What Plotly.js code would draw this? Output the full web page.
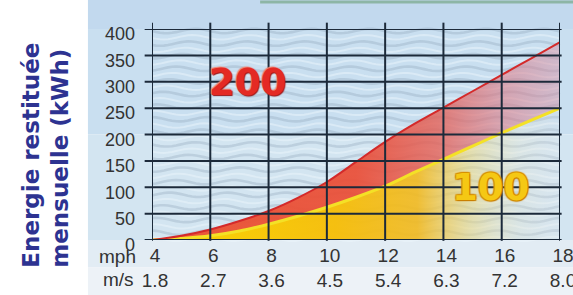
<!DOCTYPE html>
<html>
<head>
<meta charset="utf-8">
<script src="https://cdn.plot.ly/plotly-3.0.1.min.js"></script>
<style>html,body{margin:0;padding:0;background:#fff;}#chart{width:573px;height:295px;}</style>
</head>
<body>
<div id="chart"></div>
<script>
// ---- data ----
const windMph = [4, 5, 6, 7, 8, 9, 10, 11, 12, 13, 14, 15, 16, 17, 18];
const energy200 = [0, 8, 20, 36, 55, 80, 110, 148, 186, 220, 251, 282, 313, 344, 375];
const energy100 = [0, 3, 8, 17, 30, 45, 62, 81, 102, 128, 153, 178, 203, 227, 250];
const mphTicks = [4, 6, 8, 10, 12, 14, 16, 18];
const msLabels = ['1.8', '2.7', '3.6', '4.5', '5.4', '6.3', '7.2', '8.0'];
const yTicks = [0, 50, 100, 150, 200, 250, 300, 350, 400];
const seriesNames = ['100', '200'];

// ---- decorative background texture (not data) ----
function waveShapes() {
  const shapes = [];
  const W = 408, H = 211;
  for (let k = 0; k < 34; k++) {
    const base = 2 + k * 6.3;
    let d = '';
    for (let px = 0; px <= W; px += 4) {
      const py = base + 2.2 * Math.sin(2 * Math.PI * px / 58 + k * 0.35);
      d += (px === 0 ? 'M' : 'L') + (px / W).toFixed(4) + ',' + (1 - py / H).toFixed(4) + ' ';
    }
    shapes.push({type: 'path', xref: 'paper', yref: 'paper', path: d, layer: 'below',
      line: {color: k % 2 ? 'rgba(236,246,252,0.5)' : 'rgba(130,150,172,0.28)', width: k % 2 ? 2 : 2.6}});
  }
  return shapes;
}

const gridColor = '#1c2a3a';
const shapes = [];
// panel background
shapes.push({type: 'rect', xref: 'paper', yref: 'paper', x0: -0.157, x1: 1.04, y0: 1.0, y1: 1.14, fillcolor: '#c2d9ee', line: {width: 0}, layer: 'below'});
shapes.push({type: 'rect', xref: 'paper', yref: 'paper', x0: -0.157, x1: 1.04, y0: 0.5, y1: 1.0, fillcolor: '#c9dff0', line: {width: 0}, layer: 'below'});
shapes.push({type: 'rect', xref: 'paper', yref: 'paper', x0: -0.157, x1: 1.04, y0: 0.0, y1: 0.5, fillcolor: '#d3e5f1', line: {width: 0}, layer: 'below'});
shapes.push({type: 'rect', xref: 'paper', yref: 'paper', x0: -0.157, x1: 1.04, y0: -0.13, y1: 0.0, fillcolor: '#e2ecf4', line: {width: 0}, layer: 'below'});
shapes.push({type: 'rect', xref: 'paper', yref: 'paper', x0: -0.157, x1: 1.04, y0: -0.27, y1: -0.13, fillcolor: '#edf2f7', line: {width: 0}, layer: 'below'});
shapes.push({type: 'line', xref: 'paper', yref: 'paper', x0: 0.265, x1: 1.04, y0: 1.128, y1: 1.128, line: {color: '#8db6a6', width: 3}, layer: 'below'});
waveShapes().forEach(s => shapes.push(s));
// grid above the fills
yTicks.forEach(v => shapes.push({type: 'line', xref: 'paper', yref: 'y', x0: -0.018, x1: 1.004, y0: v, y1: v, line: {color: gridColor, width: 2}, layer: 'above'}));
mphTicks.forEach(v => shapes.push({type: 'line', xref: 'x', yref: 'paper', x0: v, x1: v, y0: -0.004, y1: 1.03, line: {color: gridColor, width: 2}, layer: 'above'}));

const traces = [
  {x: windMph, y: energy100, name: seriesNames[0], type: 'scatter', mode: 'lines',
   line: {color: '#f4e126', width: 3, shape: 'spline', smoothing: 0.8}, fill: 'tozeroy',
   fillgradient: {type: 'horizontal', colorscale: [[0, 'rgba(250,214,0,1)'], [0.45, 'rgba(246,190,10,0.97)'], [0.65, 'rgba(242,185,30,0.9)'], [0.78, 'rgba(238,215,120,0.55)'], [0.9, 'rgba(232,228,200,0.3)'], [1, 'rgba(230,230,235,0.2)']]}},
  {x: windMph, y: energy200, name: seriesNames[1], type: 'scatter', mode: 'lines',
   line: {color: '#d42a2a', width: 2, shape: 'spline', smoothing: 0.8}, fill: 'tonexty',
   fillgradient: {type: 'horizontal', colorscale: [[0, 'rgba(236,80,45,0.95)'], [0.5, 'rgba(234,78,55,0.93)'], [0.7, 'rgba(228,95,85,0.8)'], [0.85, 'rgba(220,120,130,0.6)'], [1, 'rgba(214,140,160,0.45)']]}}
];

const layout = {
  width: 573, height: 295,
  margin: {l: 152, r: 13, t: 29, b: 55, pad: 0},
  paper_bgcolor: '#ffffff', plot_bgcolor: '#c4d9e6',
  showlegend: false,
  xaxis: {range: [4, 18], tickvals: mphTicks, ticktext: mphTicks.map((v, i) => v + '<br>' + msLabels[i]),
    showgrid: false, zeroline: false, showline: false, ticks: '', ticklabelstandoff: 2, ticklabelshift: 3,
    ticklabeloverflow: 'allow',
    tickfont: {family: 'Liberation Sans, Arial, sans-serif', size: 19, color: '#333333'}, fixedrange: true},
  yaxis: {range: [0, 400], tickvals: yTicks, showgrid: false, zeroline: false, showline: false, ticks: '',
    ticklabelstandoff: 16, ticklabelshift: 5, ticklabeloverflow: 'allow',
    tickfont: {family: 'Liberation Sans, Arial, sans-serif', size: 18, color: '#333333'}, fixedrange: true},
  shapes: shapes,
  annotations: [
    {xref: 'paper', yref: 'paper', x: -0.262, y: 0.4, xanchor: 'center', yanchor: 'middle', showarrow: false,
     textangle: -90, align: 'left', text: 'Energie restituée<br>mensuelle (kWh)',
     font: {family: 'DejaVu Sans, sans-serif', size: 23, weight: 'bold', color: '#2d3391'}},
    {xref: 'paper', yref: 'paper', x: -0.085, y: -0.08, xanchor: 'center', yanchor: 'middle', showarrow: false,
     text: 'mph', font: {family: 'Liberation Sans, Arial, sans-serif', size: 19, color: '#333333'}},
    {xref: 'paper', yref: 'paper', x: -0.081, y: -0.185, xanchor: 'center', yanchor: 'middle', showarrow: false,
     text: 'm/s', font: {family: 'Liberation Sans, Arial, sans-serif', size: 19, color: '#333333'}},
    {xref: 'x', yref: 'y', x: 7.26, y: 298, showarrow: false, text: seriesNames[1],
     font: {family: 'DejaVu Sans, sans-serif', size: 37, weight: 'bold', color: '#e42a24',
            shadow: '1px 1px 1px #9a1414, -1px -1px 1px #f08070'}},
    {xref: 'x', yref: 'y', x: 15.6, y: 99, showarrow: false, text: seriesNames[0],
     font: {family: 'DejaVu Sans, sans-serif', size: 37, weight: 'bold', color: '#f5c814',
            shadow: '1px 1px 1px #c77d00, -1px -1px 1px #d89000, 1px -1px 1px #d89000, -1px 1px 1px #d89000'}}
  ]
};

Plotly.newPlot('chart', traces, layout, {displayModeBar: false, staticPlot: true});
</script>
</body>
</html>
